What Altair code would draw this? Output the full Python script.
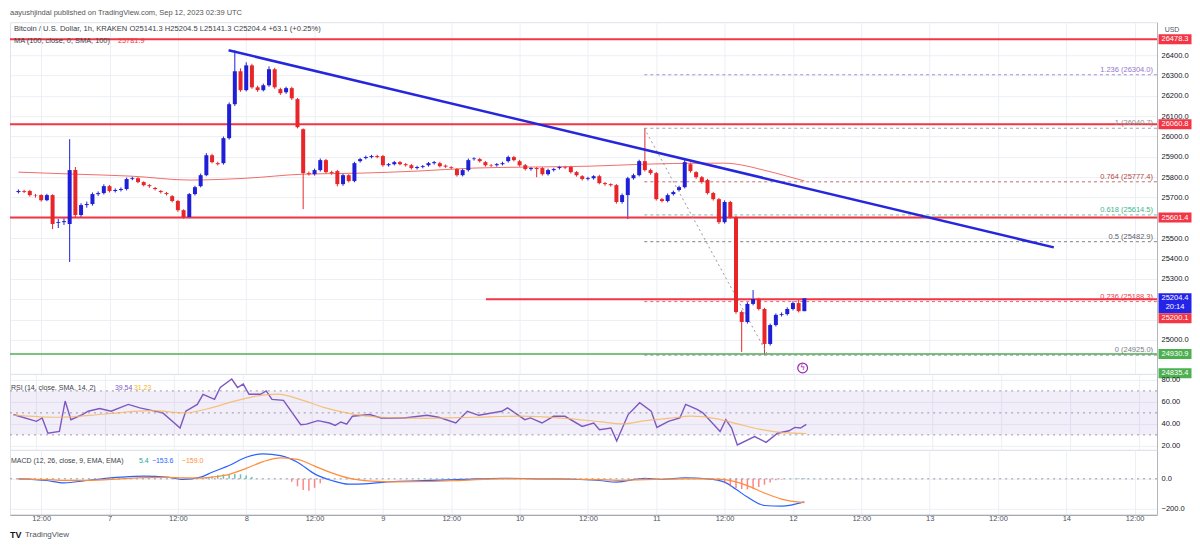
import altair as alt
import pandas as pd

# ---------------- data ----------------
start_time = "2023-09-06T08:00:00Z"      # time of the first hourly candle

opens = [25727,25732,25732,25712,25712,25687,25712,25575,25579,25570,
         25835,25614,25663,25668,25717,25722,25756,25732,25737,25742,
         25791,25795,25776,25761,25747,25732,25722,25707,25683,25638,
         25604,25717,25756,25810,25908,25869,25869,25992,26159,26321,
         26228,26350,26242,26228,26252,26331,26233,26218,26238,26184,
         26036,25820,25815,25835,25884,25825,25830,25766,25810,25781,
         25879,25894,25899,25904,25904,25859,25864,25874,25864,25859,
         25845,25850,25859,25869,25869,25857,25849,25840,25810,25835,
         25889,25889,25874,25859,25859,25864,25879,25899,25879,25859,
         25840,25845,25845,25815,25835,25845,25850,25850,25825,25805,
         25791,25795,25805,25771,25766,25761,25678,25712,25795,25810,
         25879,25835,25820,25692,25683,25717,25737,25751,25864,25825,
         25800,25786,25722,25692,25579,25678,25604,25137,25088,25177,
         25201,25152,24980,25073,25123,25127,25152,25181,25141.3]
closes = [25732,25728,25712,25710,25687,25712,25570,25579,25584,25835,
          25614,25663,25668,25717,25722,25756,25732,25737,25742,25791,
          25795,25776,25761,25756,25742,25727,25717,25683,25638,25604,
          25717,25751,25810,25908,25874,25864,25992,26159,26321,26228,
          26350,26242,26228,26252,26331,26242,26213,26238,26188,26046,
          25820,25815,25835,25884,25825,25820,25766,25810,25781,25869,
          25889,25899,25904,25899,25859,25864,25874,25864,25859,25845,
          25850,25854,25869,25874,25854,25852,25845,25810,25835,25884,
          25892,25879,25859,25857,25864,25869,25899,25884,25859,25840,
          25845,25840,25815,25835,25840,25850,25847,25825,25810,25791,
          25795,25805,25771,25766,25761,25678,25712,25795,25810,25879,
          25835,25820,25692,25683,25712,25727,25751,25874,25830,25800,
          25776,25722,25692,25579,25678,25604,25137,25088,25177,25201,
          25152,24980,25073,25123,25127,25152,25181,25141.3,25204.4]
highs = [25740,25738,25738,25718,25716,25718,25716,25595,25598,25987,
         25850,25672,25680,25725,25730,25765,25762,25745,25750,25798,
         25803,25800,25780,25766,25752,25737,25727,25712,25688,25642,
         25722,25758,25818,25918,25915,25876,26000,26168,26424,26335,
         26365,26358,26250,26260,26345,26338,26240,26245,26245,26190,
         26040,25828,25842,25892,25890,25832,25836,25818,25815,25876,
         25895,25906,25910,25910,25910,25870,25880,25880,25870,25865,
         25856,25860,25875,25880,25876,25862,25854,25845,25842,25892,
         25898,25895,25880,25865,25870,25876,25906,25905,25885,25865,
         25850,25850,25850,25842,25846,25856,25856,25856,25830,25810,
         25802,25810,25812,25776,25770,25766,25720,25802,25818,25886,
         26040.7,25842,25826,25698,25720,25734,25758,25885,25872,25830,
         25806,25792,25728,25698,25686,25684,25610,25145,25185,25245,
         25208,25158,25080,25130,25135,25160,25190,25200,25204.5]
lows = [25720,25722,25705,25700,25680,25682,25545,25550,25565,25383,
        25600,25600,25650,25660,25708,25715,25725,25725,25730,25735,
        25785,25770,25755,25748,25735,25720,25710,25676,25630,25596,
        25598,25710,25750,25805,25868,25858,25862,25985,26150,26220,
        26222,26235,26220,26222,26245,26235,26205,26210,26180,26040,
        25643,25808,25808,25828,25818,25812,25755,25758,25774,25775,
        25872,25888,25893,25893,25852,25852,25858,25858,25852,25838,
        25838,25844,25852,25862,25848,25846,25838,25803,25804,25828,
        25882,25872,25852,25850,25852,25858,25872,25878,25852,25833,
        25832,25800,25808,25808,25828,25838,25840,25818,25803,25784,
        25784,25788,25765,25758,25754,25670,25670,25594,25788,25804,
        25828,25812,25685,25676,25676,25710,25730,25745,25822,25792,
        25768,25715,25685,25570,25572,25596,25128,24941,25080,25170,
        25145,24925,24972,25066,25115,25120,25145,25135,25141.3]

# 100-period SMA, read at sampled candles
ma_idx = [0, 10, 20, 30, 40, 50, 60, 70, 80, 90, 100, 110, 120, 124, 127, 130, 133, 136, 138]
ma_val = [25825, 25815, 25805, 25786, 25795, 25815, 25820, 25830, 25845, 25850,
          25854, 25864, 25869, 25869, 25860, 25841, 25820, 25797, 25781.9]

# RSI and its SMA
rsi_idx = [0,1,4,5,6,8,9,10,12,13,15,17,20,22,26,29,30,32,33,35,36,38,39,40,41,43,44,45,47,50,
           51,53,55,56,57,58,59,62,64,68,72,74,77,79,81,85,86,89,90,92,94,96,99,101,102,104,105,
           107,109,111,112,114,116,117,119,120,123,124,125,126,129,131,133,135,136,137,138]
rsi_val = [48.5,46.9,42.3,45.4,31.5,33.1,60.8,43.8,48.5,51.5,54,51.5,57.7,54.6,50,36.2,51.5,57.7,
           66.9,62.3,73.1,80.8,73.1,76.2,66.9,66.9,70,62.3,61.4,39.2,39.8,42.9,40.8,38.6,41.7,39.8,
           46.9,48.5,45.4,45.4,47.8,46,40.8,51.5,47.8,51.5,54.6,43.8,45.4,40.8,46.9,46.9,37.7,40.8,
           34.6,36.2,24.5,48.5,59.2,51.5,36.8,42.3,45.4,57.7,53.1,50,33.1,43.8,36.2,20.8,28.5,23.2,
           31.5,33.7,36.8,36.2,39.54]
rsi_sma_idx = [0,8,16,24,30,34,38,42,46,50,54,58,64,72,80,88,96,102,106,110,114,118,122,126,130,134,138]
rsi_sma_val = [48,46,49,52,50,54,60,65,67,62,55,50,46,45,46,47,45,42,40,43,45,47,45,40,35,32,31.23]

# MACD
macd_idx = [0,5,8,12,18,22,26,29,32,34,37,40,43,46,49,52,55,58,62,66,72,78,85,92,98,102,105,
            110,113,117,121,124,126,128,131,134,138]
macd_val = [0,-11,-27,-11,11,18,11,-4,11,44,89,144,167,155,111,33,-11,-36,-30,-18,-11,-4,4,0,-4,
            -11,-22,4,-4,7,0,-22,-70,-122,-178,-182,-153.6]
signal_val = [0,-5,-10,-10,0,8,10,6,5,12,30,70,115,140,130,85,40,5,-15,-20,-18,-10,0,0,-3,-5,
              -10,-5,-3,0,0,-5,-20,-45,-95,-135,-159.0]
hist_idx = [33,34,35,36,37,38,39,40,41,
            48,49,50,51,52,53,
            123,124,125,126,127,128,129,130,131,132,133,134,135,136,137,138]
hist_val = [10,18,25,30,33,33,30,22,12,
            -20,-50,-75,-80,-60,-30,
            -10,-30,-50,-62,-68,-70,-65,-55,-40,-25,-10,-5,0,3,4,5.4]

# drawings
fib_levels = ["1.236", "1", "0.764", "0.618", "0.5", "0.236", "0"]
fib_prices = [26304.0, 26040.7, 25777.4, 25614.5, 25482.9, 25188.3, 24925.0]
fib_colors = ["#9575cd", "#8a8d96", "#b24848", "#3fb58c", "#5d606b", "#f23645", "#787b86"]
fib_start_idx = 109.9
fib_diag_idx = [109.9, 131.6]
fib_diag_price = [26040.7, 24925.0]
red_levels = [26478.3, 26060.8, 25601.4]
red_partial_level = 25200.1
red_partial_idx = 82.1
green_level = 24930.9
trend_idx = [36.9, 181.8]
trend_price = [26424.2, 25455.0]

price_ticks = [25000, 25100, 25200, 25300, 25400, 25500, 25600, 25700,
               25800, 25900, 26000, 26100, 26200, 26300, 26400]
rsi_ticks = [20, 40, 60, 80]
macd_ticks = [-200, 0]
x_tick_hours = [4, 16, 28, 40, 52, 64, 76, 88, 100, 112, 124, 136, 148, 160, 172, 184, 196]

box_labels = ["26478.3", "26060.8", "25601.4", "24930.9", "24835.4"]
box_prices = [26478.3, 26060.8, 25601.4, 24930.9, 24835.4]
box_colors = ["#f23645", "#f23645", "#f23645", "#4caf50", "#4caf50"]
last_price = 25204.4
last_countdown = "20:14"
alert_label = "25200.1"

# ---------------- layout / style ----------------
W = 1148
HP, HR, HM = 352, 76, 65
BLUE = "#1f1fd8"
RED = "#e8262a"
GRID = "#eceff4"
FONT = "Liberation Sans"
TXT = "#4a4d57"
HOUR = 3600 * 1000
T0 = pd.Timestamp(start_time).value // 10**6
XMIN = T0 - 0.6 * HOUR
XMAX = XMIN + 199.65 * HOUR


def tms(i):
    return int(T0 + i * HOUR)


xticks = [tms(h) for h in x_tick_hours]
xs = alt.Scale(type="utc", domain=[XMIN, XMAX], nice=False)
py = alt.Scale(domain=[24832.7, 26562.2], nice=False, zero=False)
ry = alt.Scale(domain=[16.36, 85.45], nice=False, zero=False)
my = alt.Scale(domain=[-240, 193.3], nice=False, zero=False)

# one axis object per channel and panel, reused by every layer (so the layers merge cleanly)
grid_x = alt.Axis(values=xticks, labels=False, ticks=False, domain=False, title=None,
                  grid=True, gridColor=GRID)
bottom_x = alt.Axis(values=xticks, grid=True, gridColor=GRID, domain=True, domainColor="#9598a1",
                    ticks=False, labelPadding=0, labelFontSize=7.5, labelColor="#50535e",
                    title=None, labelFlush=False, labelOverlap=False,
                    labelExpr="utchours(datum.value) == 0 ? utcFormat(datum.value, '%-d') : utcFormat(datum.value, '%H:%M')")


def yaxis(vals, fmt):
    return alt.Axis(orient="right", values=vals, format=fmt, grid=True, gridColor=GRID,
                    ticks=False, domain=True, domainColor="#b2b5be", labelPadding=4,
                    title=None, labelFontSize=7.5, labelColor="#131722", labelOverlap=False)


price_y = yaxis(price_ticks, ".1f")
rsi_y = yaxis(rsi_ticks, ".2f")
macd_y = yaxis(macd_ticks, ".1f")


def XP(field="t"):
    return alt.X(f"{field}:T", scale=xs, axis=grid_x)


def XB(field="t"):
    return alt.X(f"{field}:T", scale=xs, axis=bottom_x)


def YP(field):
    return alt.Y(f"{field}:Q", scale=py, axis=price_y)


def YR(field):
    return alt.Y(f"{field}:Q", scale=ry, axis=rsi_y)


def YM(field):
    return alt.Y(f"{field}:Q", scale=my, axis=macd_y)


ONE = pd.DataFrame({"a": [0]})


def label(txt, x, y, color=TXT, size=7.5, align="left", weight="normal"):
    return alt.Chart(ONE).mark_text(text=txt, align=align, baseline="middle", fontSize=size,
                                    color=color, fontWeight=weight).encode(
        x=alt.value(x), y=alt.value(y))


# ---------------- price pane ----------------
cdf = pd.DataFrame({"t": [tms(i) for i in range(len(opens))],
                    "o": opens, "h": highs, "l": lows, "c": closes})
ccol = alt.condition("datum.c >= datum.o", alt.value(BLUE), alt.value(RED))

wicks = alt.Chart(cdf).mark_rule(strokeWidth=1).encode(x=XP(), y=YP("l"), y2="h:Q", color=ccol)
bodies = alt.Chart(cdf).mark_bar(size=4).encode(x=XP(), y=YP("o"), y2="c:Q", color=ccol)

ma = alt.Chart(pd.DataFrame({"t": [tms(i) for i in ma_idx], "v": ma_val})).mark_line(
    color="#ef5350", strokeWidth=1, opacity=0.85, interpolate="monotone").encode(x=XP(), y=YP("v"))

fdf = pd.DataFrame({"t": [tms(fib_start_idx)] * len(fib_levels), "p": fib_prices,
                    "col": fib_colors,
                    "lab": [f"{l} ({p:.1f})" for l, p in zip(fib_levels, fib_prices)]})
fib_lines = alt.Chart(fdf).mark_rule(strokeDash=[3, 3], strokeWidth=1, opacity=0.8).encode(
    x=XP(), x2=alt.value(W), y=YP("p"), color=alt.Color("col:N", scale=None))
fib_text = alt.Chart(fdf).mark_text(align="right", baseline="bottom", dy=-1, fontSize=7.5).encode(
    x=alt.value(W - 4), y=YP("p"), text="lab:N", color=alt.Color("col:N", scale=None))
fib_diag = alt.Chart(pd.DataFrame({"t": [tms(i) for i in fib_diag_idx], "p": fib_diag_price})).mark_line(
    strokeDash=[2, 3], color="#9598a1", strokeWidth=1).encode(x=XP(), y=YP("p"))

red_full = alt.Chart(pd.DataFrame({"p": red_levels})).mark_rule(color="#f23645", strokeWidth=2).encode(
    y=YP("p"))
red_part = alt.Chart(pd.DataFrame({"t": [tms(red_partial_idx)], "p": [red_partial_level]})).mark_rule(
    color="#f23645", strokeWidth=2).encode(x=XP(), x2=alt.value(W), y=YP("p"))
green = alt.Chart(pd.DataFrame({"p": [green_level]})).mark_rule(color="#4caf50", strokeWidth=1.5).encode(
    y=YP("p"))

trend = alt.Chart(pd.DataFrame({"t": [tms(i) for i in trend_idx], "p": trend_price})).mark_line(
    color="#2626dc", strokeWidth=2.5).encode(x=XP(), y=YP("p"))

BOX1 = "M-1,-0.303L1,-0.303L1,0.303L-1,0.303Z"
BOX2 = "M-1,-0.303L1,-0.303L1,0.909L-1,0.909Z"
BX = W + 18
bdf = pd.DataFrame({"p": box_prices, "lab": box_labels, "col": box_colors})
boxes = alt.Chart(bdf).mark_point(shape=BOX1, filled=True, size=1089, opacity=1, strokeWidth=0).encode(
    x=alt.value(BX), y=YP("p"), color=alt.Color("col:N", scale=None))
box_txt = alt.Chart(bdf).mark_text(color="white", fontSize=7.5).encode(
    x=alt.value(BX), y=YP("p"), text="lab:N")
ldf = pd.DataFrame({"p": [last_price]})
last_box = alt.Chart(ldf).mark_point(shape=BOX2, filled=True, size=1089, opacity=1, strokeWidth=0,
                                     color="#2424e8").encode(x=alt.value(BX), y=YP("p"))
last_txt1 = alt.Chart(ldf).mark_text(color="white", fontSize=7.5, text=f"{last_price:.1f}").encode(
    x=alt.value(BX), y=YP("p"))
last_txt2 = alt.Chart(ldf).mark_text(color="white", fontSize=7.5, dy=9, text=last_countdown).encode(
    x=alt.value(BX), y=YP("p"))
alert_box = alt.Chart(ldf).mark_point(shape=BOX1, filled=True, size=1089, opacity=1, strokeWidth=0,
                                      color="#f23645", yOffset=20).encode(x=alt.value(BX), y=YP("p"))
alert_txt = alt.Chart(ldf).mark_text(color="white", fontSize=7.5, dy=20, text=alert_label).encode(
    x=alt.value(BX), y=YP("p"))

bolt_df = pd.DataFrame({"t": [tms(137.7)]})
bolt = alt.Chart(bolt_df).mark_point(shape="circle", filled=True, fill="white", stroke="#9c27b0",
                                     strokeWidth=1.2, size=95, opacity=1).encode(
    x=XP(), y=alt.value(HP - 6))
bolt_t = alt.Chart(bolt_df).mark_text(text="ϟ", color="#9c27b0", fontSize=8, font="DejaVu Sans").encode(
    x=XP(), y=alt.value(HP - 6))

price = alt.layer(
    wicks, red_full, red_part, green, fib_lines, fib_diag, ma, bodies, trend, fib_text,
    boxes, box_txt, last_box, last_txt1, last_txt2, alert_box, alert_txt, bolt, bolt_t,
    label("aayushjindal published on TradingView.com, Sep 12, 2023 02:39 UTC", 0, -9, "#555555", 7.5),
    label("Bitcoin / U.S. Dollar, 1h, KRAKEN    O25141.3    H25204.5    L25141.3    C25204.4    +63.1 (+0.25%)",
          4, 7, "#3b3e47", 7.6),
    label("MA (100, close, 0, SMA, 100)", 4, 19, "#3b3e47", 7.4),
    label("25781.9", 108, 19, "#f23645", 7.4),
    label("USD", W + 15, 8, "#50535e", 7, align="center"),
).properties(width=W, height=HP)

# ---------------- RSI pane ----------------
band = alt.Chart(pd.DataFrame({"hi": [70], "lo": [30]})).mark_rect(color="#7e57c2", opacity=0.1).encode(
    x=alt.value(0), x2=alt.value(W), y=YR("hi"), y2="lo:Q")
rlevels = alt.Chart(pd.DataFrame({"v": [70, 50, 30]})).mark_rule(
    strokeDash=[2, 4], color="#9598a1", strokeWidth=1).encode(y=YR("v"))
rsi_sma = alt.Chart(pd.DataFrame({"t": [tms(i) for i in rsi_sma_idx], "v": rsi_sma_val})).mark_line(
    color="#f5b45a", strokeWidth=1.2, opacity=0.8, interpolate="monotone").encode(x=XP(), y=YR("v"))
rsi_line = alt.Chart(pd.DataFrame({"t": [tms(i) for i in rsi_idx], "v": rsi_val})).mark_line(
    color="#7e57c2", strokeWidth=1.4).encode(x=XP(), y=YR("v"))
rsi = alt.layer(
    rsi_line, band, rlevels, rsi_sma,
    label("RSI (14, close, SMA, 14, 2)", 1, 14, "#3b3e47", 7),
    label("39.54", 105, 14, "#7e57c2", 7),
    label("31.23", 124, 14, "#f0b429", 7),
).properties(width=W, height=HR)

# ---------------- MACD pane ----------------
mdf = pd.DataFrame({"t": [tms(i) for i in macd_idx], "m": macd_val, "s": signal_val})
hdf = pd.DataFrame({"t": [tms(i) for i in hist_idx], "v": hist_val, "z": [0] * len(hist_idx)})
macd_line = alt.Chart(mdf).mark_line(color="#2962ff", strokeWidth=1.2, interpolate="monotone").encode(
    x=XB(), y=YM("m"))
sig_line = alt.Chart(mdf).mark_line(color="#ff8c38", strokeWidth=1.2, interpolate="monotone").encode(
    x=XB(), y=YM("s"))
hist = alt.Chart(hdf).mark_bar(size=1.5, opacity=0.7).encode(
    x=XB(), y=YM("v"), y2="z:Q",
    color=alt.condition("datum.v >= 0", alt.value("#26a69a"), alt.value("#ff5252")))
zero = alt.Chart(pd.DataFrame({"v": [0]})).mark_rule(strokeDash=[2, 4], color="#9598a1").encode(
    y=YM("v"))
macd = alt.layer(
    macd_line, zero, hist, sig_line,
    label("MACD (12, 26, close, 9, EMA, EMA)", 1, 11, "#3b3e47", 7),
    label("5.4", 129, 11, "#26a69a", 7),
    label("\u2212153.6", 142, 11, "#2962ff", 7),
    label("\u2212159.0", 172, 11, "#ff8c38", 7),
    label("TV", 0, 85, "#131722", 9, weight="bold"),
    label("TradingView", 15, 85, "#50535e", 8),
).properties(width=W, height=HM)

chart = alt.VConcatChart(vconcat=[price, rsi, macd], spacing=0, bounds="flush", padding=0).configure(
    font=FONT).configure_view(stroke="#e0e3eb")

chart.save("out.html", embed_options={"renderer": "svg", "actions": False})
